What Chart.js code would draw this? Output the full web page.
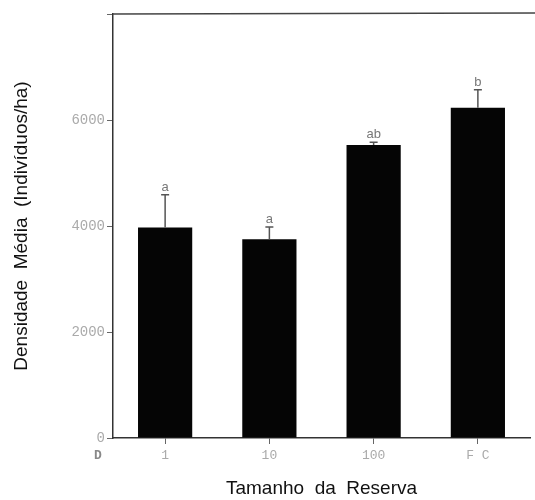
<!DOCTYPE html>
<html>
<head>
<meta charset="utf-8">
<script src="https://cdn.jsdelivr.net/npm/chart.js@4"></script>
<style>
  html, body { margin: 0; padding: 0; background: #fff; }
  #wrap { width: 535px; height: 500px; }
</style>
</head>
<body>
<div id="wrap"><canvas id="myChart" width="535" height="500"></canvas></div>
<script>
// data
var categories = ['1', '10', '100', 'F C']
var densidade = [3970, 3750, 5530, 6230]
var erroSup = [4590, 3980, 5580, 6570]
var letras = ['a', 'a', 'ab', 'b']
var yTicks = [0, 2000, 4000, 6000, 8000]

// error bars, letters, top line and the little "D"
const extras = {
    id: 'extras',
    afterDatasetsDraw(chart) {
        const ctx = chart.ctx
        const x = chart.scales.x
        const y = chart.scales.y
        const area = chart.chartArea
        ctx.save()
        // top frame line
        ctx.strokeStyle = '#444'
        ctx.lineWidth = 1.5
        ctx.beginPath()
        ctx.moveTo(area.left, area.top)
        ctx.lineTo(chart.width, area.top - 1)
        ctx.stroke()

        for (let i = 0; i < categories.length; i++) {
            let cx = x.getPixelForValue(i)
            let yb = y.getPixelForValue(densidade[i])
            let ye = y.getPixelForValue(erroSup[i])
            ctx.strokeStyle = '#555'
            ctx.lineWidth = 1.5
            ctx.beginPath()
            ctx.moveTo(cx, yb)
            ctx.lineTo(cx, ye)
            ctx.moveTo(cx - 4, ye)
            ctx.lineTo(cx + 4, ye)
            ctx.stroke()
            ctx.fillStyle = '#777'
            ctx.font = '13px "Liberation Sans"'
            ctx.textAlign = 'center'
            ctx.textBaseline = 'bottom'
            ctx.fillText(letras[i], cx, ye - 1)
        }
        ctx.fillStyle = '#888'
        ctx.font = 'bold 13px "Liberation Mono"'
        ctx.textAlign = 'center'
        ctx.textBaseline = 'middle'
        ctx.fillText('D', 98, 456)
        ctx.restore()
    }
}

const abc = document.getElementById('myChart')
const myChart = new Chart(abc, {
    type: 'bar',
    data: {
        labels: categories,
        datasets: [{
            data: densidade,
            backgroundColor: '#050505',
            borderWidth: 0,
            categoryPercentage: 1,
            barPercentage: 0.52
        }]
    },
    options: {
        responsive: false,
        animation: false,
        layout: { padding: { top: 14, right: 5, left: 0, bottom: 0 } },
        plugins: { legend: { display: false }, tooltip: { enabled: false } },
        scales: {
            x: {
                offset: true,
                grid: { offset: false, drawOnChartArea: false, tickLength: 6, color: '#666' },
                border: { color: '#333', width: 1.5 },
                ticks: { color: '#aaa', font: { family: 'Liberation Mono', size: 13 }, padding: 4 },
                title: {
                    display: true,
                    text: 'Tamanho  da  Reserva',
                    color: '#111',
                    font: { family: 'Liberation Sans', size: 19 },
                    padding: { top: 0, bottom: 0 }
                },
                afterFit(scale) { scale.height = 62 }
            },
            y: {
                min: 0,
                max: 8000,
                afterBuildTicks(scale) { scale.ticks = yTicks.map(v => ({ value: v })) },
                grid: { drawOnChartArea: false, tickLength: 6, color: '#666' },
                border: { color: '#333', width: 1.5 },
                ticks: {
                    color: '#aaa',
                    font: { family: 'Liberation Mono', size: 14 },
                    padding: 2,
                    callback: v => (v === 8000 ? '' : v)
                },
                title: {
                    display: true,
                    text: 'Densidade  Média  (Indivíduos/ha)',
                    color: '#111',
                    font: { family: 'Liberation Sans', size: 19 },
                    padding: { top: 10, bottom: 0 }
                },
                afterFit(scale) { scale.width = 113 }
            }
        }
    },
    plugins: [extras]
})
</script>
</body>
</html>
